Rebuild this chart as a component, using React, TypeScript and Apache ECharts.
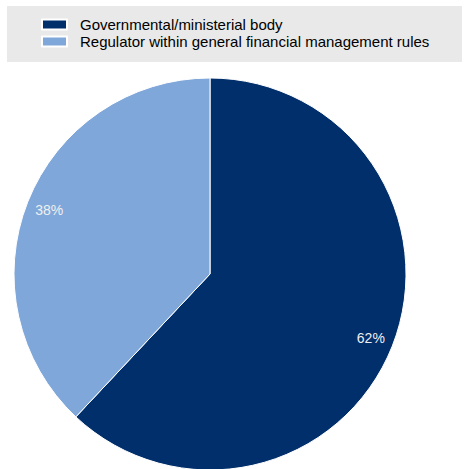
import React, { useEffect, useRef } from "react";
import * as echarts from "echarts";

const categories = ["Governmental/ministerial body", "Regulator within general financial management rules"];
const values = [62, 38];
const colors = ["#002F6C", "#7FA7D9"];

export default function App() {
  const ref = useRef<HTMLDivElement>(null);
  useEffect(() => {
    const chart = echarts.init(ref.current!, null, { renderer: "svg" });
    const data = categories.map((name, i) => ({ name, value: values[i], itemStyle: { color: colors[i] } }));
    chart.setOption({
      animation: false,
      backgroundColor: "#ffffff",
      graphic: [
        { type: "rect", shape: { x: 7, y: 6, width: 455, height: 56 }, style: { fill: "#E9E9E9" }, z: -10 },
      ],
      legend: {
        orient: "vertical",
        left: 36,
        top: 11,
        icon: "rect",
        itemWidth: 25,
        itemHeight: 10,
        itemGap: 0,
        data: categories,
        textStyle: { fontFamily: "Liberation Sans, Arial, sans-serif", fontSize: 15, color: "#000", lineHeight: 17, padding: [0, 0, 0, 8] },
      },
      series: [
        {
          type: "pie",
          center: [210, 274],
          radius: [0, 196],
          startAngle: 90,
          clockwise: true,
          silent: true,
          data,
          label: { show: false },
          labelLine: { show: false },
          itemStyle: { borderColor: "#ffffff", borderWidth: 1 },
        },
        {
          type: "pie",
          center: [210, 274],
          radius: [144, 196],
          startAngle: 90,
          clockwise: true,
          silent: true,
          legendHoverLink: false,
          data: categories.map((name, i) => ({ name, value: values[i], itemStyle: { color: "transparent" } })),
          label: {
            show: true,
            position: "inside",
            formatter: "{c}%",
            color: "#F0F0F0",
            fontFamily: "Liberation Sans, Arial, sans-serif",
            fontSize: 14,
          },
          labelLine: { show: false },
          itemStyle: { borderWidth: 0 },
        },
      ],
    });
    return () => chart.dispose();
  }, []);
  return <div ref={ref} style={{ position: "absolute", left: 0, top: 0, width: 464, height: 469 }} />;
}
